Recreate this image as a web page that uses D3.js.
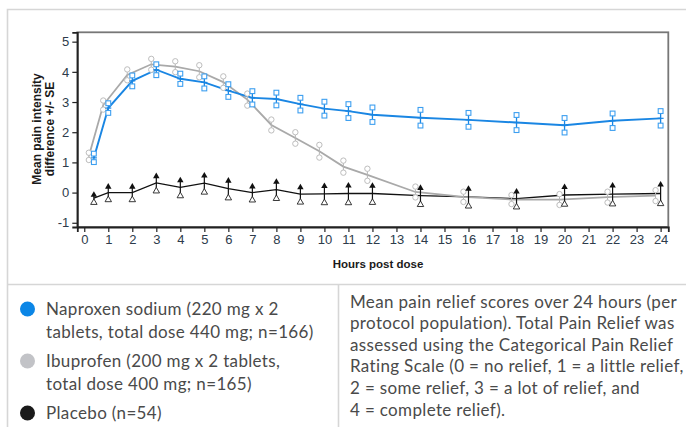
<!DOCTYPE html>
<html>
<head>
<meta charset="utf-8">
<script src="https://cdn.jsdelivr.net/npm/d3@7"></script>
<style>
  body { margin: 0; background: #fff; }
  svg { display: block; }
</style>
</head>
<body>
<svg id="chart" width="686" height="427"></svg>
<script>
// time points (hours post dose)
const hours = [0.4, 1, 2, 3, 4, 5, 6, 7, 8, 9, 10, 11, 12, 14, 16, 18, 20, 22, 24];

const naproxenMean = [1.15, 2.8, 3.7, 4.07, 3.77, 3.65, 3.38, 3.14, 3.1, 2.93, 2.78, 2.7, 2.58, 2.48, 2.41, 2.32, 2.23, 2.38, 2.46];
const naproxenSE   = [0.14, 0.16, 0.18, 0.18, 0.17, 0.2, 0.21, 0.22, 0.21, 0.21, 0.23, 0.23, 0.24, 0.26, 0.23, 0.25, 0.24, 0.24, 0.24];

const ibuprofenMean = [1.2, 2.9, 3.9, 4.25, 4.17, 4.02, 3.66, 3.08, 2.24, 1.81, 1.37, 0.86, 0.59, 0.02, -0.14, -0.23, -0.23, -0.15, -0.1];
const ibuprofenSE   = [0.12, 0.15, 0.18, 0.18, 0.18, 0.2, 0.19, 0.2, 0.18, 0.19, 0.21, 0.2, 0.2, 0.18, 0.17, 0.15, 0.18, 0.18, 0.18];

const placeboMean = [-0.18, 0, 0, 0.32, 0.17, 0.31, 0.13, 0, 0.1, -0.05, -0.04, -0.03, -0.03, -0.1, -0.14, -0.2, -0.08, -0.05, -0.03];
const placeboSE   = [0.15, 0.24, 0.24, 0.27, 0.28, 0.3, 0.31, 0.25, 0.3, 0.27, 0.3, 0.31, 0.3, 0.3, 0.31, 0.28, 0.31, 0.33, 0.34];

const xTicks = d3.range(0, 25);
const yTicks = [-1, 0, 1, 2, 3, 4, 5];

const legendItems = [
  { color: "#0b86e6", lines: ["Naproxen sodium (220 mg x 2", "tablets, total dose 440 mg; n=166)"] },
  { color: "#c2c3c7", lines: ["Ibuprofen (200 mg x 2 tablets,", "total dose 400 mg; n=165)"] },
  { color: "#1a1a1a", lines: ["Placebo (n=54)"] }
];
const noteLines = [
  "Mean pain relief scores over 24 hours (per",
  "protocol population). Total Pain Relief was",
  "assessed using the Categorical Pain Relief",
  "Rating Scale (0 = no relief, 1 = a little relief,",
  "2 = some relief, 3 = a lot of relief, and",
  "4 = complete relief)."
];

// ibuprofen points are drawn slightly to the left of the others
const grayShift = -0.21;

const svg = d3.select("#chart");

// panel borders
const borderColor = "#d6d6d6";
svg.append("path")
  .attr("d", "M7.5,427 V9.5 H686 M7.5,284.5 H686 M338.5,284.5 V427")
  .attr("fill", "none")
  .attr("stroke", borderColor)
  .attr("stroke-width", 1.6);

const x = d3.scaleLinear().domain([-0.29, 24.32]).range([77.3, 668.3]);
const y = d3.scaleLinear().domain([-1.14, 5.31]).range([227, 32.3]);

const plot = svg.append("g");

// frame
plot.append("rect")
  .attr("x", x.range()[0]).attr("y", y.range()[1])
  .attr("width", x.range()[1] - x.range()[0])
  .attr("height", y.range()[0] - y.range()[1])
  .attr("fill", "none")
  .attr("stroke", "#777")
  .attr("stroke-width", 1.8);

const tickColor = "#2d3b4b";

const xAxis = plot.append("g")
  .attr("transform", `translate(0,${y.range()[0]})`)
  .call(d3.axisBottom(x).tickValues(xTicks).tickSize(5).tickPadding(3).tickFormat(d3.format("d")));
const yAxis = plot.append("g")
  .attr("transform", `translate(${x.range()[0]},0)`)
  .call(d3.axisLeft(y).tickValues(yTicks).tickSize(5).tickPadding(3).tickFormat(d => d));

[xAxis, yAxis].forEach(g => {
  g.select(".domain").attr("stroke", "#222").attr("stroke-width", 1.8);
  g.selectAll(".tick line").attr("stroke", "#222").attr("stroke-width", 1.2);
  g.selectAll(".tick text")
    .attr("fill", tickColor)
    .style("font-family", "'Liberation Sans', Arial, sans-serif")
    .style("font-size", "13px");
});

// axis titles
svg.append("text")
  .attr("x", 378).attr("y", 268)
  .attr("text-anchor", "middle")
  .style("font-family", "'Liberation Sans', Arial, sans-serif")
  .style("font-size", "11.5px").style("font-weight", "bold")
  .attr("fill", "#1a1a1a")
  .text("Hours post dose");

const yTitle = svg.append("text")
  .attr("transform", "translate(0,129) rotate(-90)")
  .attr("text-anchor", "middle")
  .style("font-family", "'Liberation Sans', Arial, sans-serif")
  .style("font-size", "12px").style("font-weight", "bold")
  .attr("fill", "#1a1a1a");
yTitle.append("tspan").attr("x", 0).attr("y", 41).text("Mean pain intensity");
yTitle.append("tspan").attr("x", 0).attr("y", 53.5).text("difference +/- SE");

// build series rows
const rows = (means, ses, shift) => hours.map((h, i) => ({ h: h + shift, m: means[i], se: ses[i] }));
const naproxen = rows(naproxenMean, naproxenSE, 0);
const ibuprofen = rows(ibuprofenMean, ibuprofenSE, grayShift);
const placebo = rows(placeboMean, placeboSE, 0);

const line = d3.line().x(d => x(d.h)).y(d => y(d.m));

// lines
plot.append("path").datum(placebo).attr("d", line)
  .attr("fill", "none").attr("stroke", "#111").attr("stroke-width", 1.3);
plot.append("path").datum(ibuprofen).attr("d", line)
  .attr("fill", "none").attr("stroke", "#a9a9a9").attr("stroke-width", 1.8);
plot.append("path").datum(naproxen).attr("d", line)
  .attr("fill", "none").attr("stroke", "#1a86e3").attr("stroke-width", 1.9);

// ibuprofen error bars + circles
const gIbu = plot.append("g");
gIbu.selectAll("line.bar").data(ibuprofen).join("line")
  .attr("x1", d => x(d.h)).attr("x2", d => x(d.h))
  .attr("y1", d => y(d.m + d.se)).attr("y2", d => y(d.m - d.se))
  .attr("stroke", "#b5b5b5").attr("stroke-width", 1);
gIbu.selectAll("circle").data(ibuprofen.flatMap(d => [d.m + d.se, d.m - d.se].map(v => ({ h: d.h, v }))))
  .join("circle")
  .attr("cx", d => x(d.h)).attr("cy", d => y(d.v)).attr("r", 2.7)
  .attr("fill", "#fff").attr("stroke", "#bdbdbd").attr("stroke-width", 1);

// naproxen error bars + squares
const gNap = plot.append("g");
gNap.selectAll("line.bar").data(naproxen).join("line")
  .attr("x1", d => x(d.h)).attr("x2", d => x(d.h))
  .attr("y1", d => y(d.m + d.se)).attr("y2", d => y(d.m - d.se))
  .attr("stroke", "#1a86e3").attr("stroke-width", 1.3);
gNap.selectAll("line.mid").data(naproxen).join("line")
  .attr("x1", d => x(d.h) - 3).attr("x2", d => x(d.h) + 3)
  .attr("y1", d => y(d.m)).attr("y2", d => y(d.m))
  .attr("stroke", "#1a86e3").attr("stroke-width", 1.2);
gNap.selectAll("rect").data(naproxen.flatMap(d => [d.m + d.se, d.m - d.se].map(v => ({ h: d.h, v }))))
  .join("rect")
  .attr("x", d => x(d.h) - 2.4).attr("y", d => y(d.v) - 2.4)
  .attr("width", 4.8).attr("height", 4.8)
  .attr("fill", "#fff").attr("stroke", "#3d9ff0").attr("stroke-width", 1.1);

// placebo error bars with triangles
const gPla = plot.append("g");
gPla.selectAll("line").data(placebo).join("line")
  .attr("x1", d => x(d.h)).attr("x2", d => x(d.h))
  .attr("y1", d => y(d.m + d.se)).attr("y2", d => y(d.m - d.se))
  .attr("stroke", "#111").attr("stroke-width", 1.2);
const tri = d3.symbol().type(d3.symbolTriangle).size(18);
gPla.selectAll("path.up").data(placebo).join("path")
  .attr("class", "up")
  .attr("transform", d => `translate(${x(d.h)},${y(d.m + d.se) + 1.5})`)
  .attr("d", tri).attr("fill", "#111");
gPla.selectAll("path.down").data(placebo).join("path")
  .attr("class", "down")
  .attr("transform", d => `translate(${x(d.h)},${y(d.m - d.se)})`)
  .attr("d", tri).attr("fill", "#fff").attr("stroke", "#222").attr("stroke-width", 0.9);

// legend + note text
const textFont = "Lato, 'Open Sans', sans-serif";
const textColor = "#4a4a4a";
const textSize = 17;
const legend = svg.append("g");
let ly = 309;
const texts = [];
legendItems.forEach(item => {
  legend.append("circle").attr("cx", 27.5).attr("cy", ly).attr("r", 7.5).attr("fill", item.color);
  const t = legend.append("text").attr("fill", textColor);
  item.lines.forEach((s, i) => {
    t.append("tspan").attr("x", 46).attr("y", ly + 6 + i * 22.5).text(s);
  });
  texts.push(t);
  ly += (item.lines.length - 1) * 22.5 + 29.5;
});

const note = svg.append("text").attr("fill", textColor);
noteLines.forEach((s, i) => {
  note.append("tspan").attr("x", 350).attr("y", 307.5 + i * 21.6).text(s);
});
texts.push(note);

texts.forEach(t => t.style("font-family", textFont).style("font-size", textSize + "px").style("font-weight", 400));

// widen letter spacing until the longest note line just fits the panel
const spacing = d3.min(note.selectAll("tspan").nodes(), (n, i) =>
  (333 - n.getComputedTextLength()) / (noteLines[i].length - 1));
texts.forEach(t => t.style("letter-spacing", Math.max(0, spacing) + "px"));
</script>
</body>
</html>
